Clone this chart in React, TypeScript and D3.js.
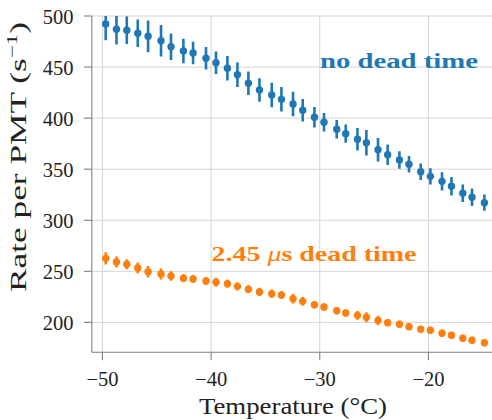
import React from "react";
import * as d3 from "d3";

const temps = [-49.70, -48.71, -47.76, -46.75, -45.80, -44.61, -43.69, -42.55, -41.66, -40.47, -39.55, -38.50, -37.58, -36.57, -35.55, -34.42, -33.53, -32.46, -31.57, -30.49, -29.61, -28.44, -27.61, -26.53, -25.71, -24.64, -23.75, -22.67, -21.79, -20.71, -19.82, -18.75, -17.88, -16.84, -15.99, -14.85];

const rateNoDead = [492.2, 487.0, 486.0, 483.1, 480.1, 475.8, 469.9, 465.7, 463.8, 458.6, 454.3, 448.8, 442.5, 434.1, 427.5, 422.6, 418.4, 413.8, 407.7, 400.8, 395.9, 389.1, 384.8, 379.4, 375.9, 369.1, 364.2, 359.0, 354.8, 347.5, 343.0, 338.1, 333.3, 326.4, 322.5, 317.2];
const errNoDead = [16, 15, 13.5, 13.5, 15.5, 15.5, 13, 12, 11, 11, 11, 12, 12, 11.5, 11.5, 12, 12, 12, 11, 10, 9, 9, 9, 11, 12.5, 11.5, 10, 8.5, 8, 8, 8, 9, 9, 8.5, 8.5, 8];

const rateDead = [262.7, 259.1, 256.9, 253.3, 249.6, 247.4, 245.4, 243.2, 242.5, 240.5, 239.3, 237.9, 235.3, 232.4, 229.8, 228.1, 226.8, 223.2, 220.6, 217.3, 215.1, 211.4, 209.2, 206.9, 205.0, 202.0, 199.7, 198.1, 195.8, 193.2, 192.3, 189.3, 187.4, 184.4, 182.5, 180.1];
const errDead = [6, 5.3, 5, 5.3, 5.6, 5.3, 4.7, 4, 4, 4, 4.5, 4, 4, 4, 4, 4, 4, 4.7, 4.3, 3.5, 3.5, 3.5, 3.5, 4.3, 4.8, 4.5, 3.5, 3.5, 3.5, 3.5, 3.5, 3.5, 3.5, 3.5, 3.5, 3.5];

const xTicks = [-50, -40, -30, -20];
const yTicks = [200, 250, 300, 350, 400, 450, 500];

const BLUE = "#1f77b4";
const ORANGE = "#ff7f0e";
const FONT = "'Liberation Serif', 'DejaVu Serif', serif";

const W = 492, H = 420;
const L = 91.8, R = 492, T = 16, B = 352.3;

export default function App() {
  const x = d3.scaleLinear().domain([-50.98, -14.15]).range([L, R]);
  const y = d3.scaleLinear().domain([170.7, 500]).range([B, T]);
  const fmt = (v: number) => (v < 0 ? "\u2212" + Math.abs(v) : String(v));

  const series = [
    { vals: rateNoDead, errs: errNoDead, color: BLUE },
    { vals: rateDead, errs: errDead, color: ORANGE },
  ];

  return (
    <svg width={W} height={H} style={{ position: "absolute", left: 0, top: 0, background: "#fff" }}>
      <defs>
        <clipPath id="plotclip">
          <rect x={L} y={T} width={R - L} height={B - T} />
        </clipPath>
      </defs>
      {yTicks.map((t) => (
        <line key={"gy" + t} x1={L} x2={R} y1={y(t)} y2={y(t)} stroke="#d4d4d4" strokeWidth={1} />
      ))}
      {xTicks.map((t) => (
        <line key={"gx" + t} x1={x(t)} x2={x(t)} y1={T} y2={B} stroke="#d4d4d4" strokeWidth={1} />
      ))}
      <g clipPath="url(#plotclip)">
        {series.map((s, si) => (
          <g key={si}>
            {s.vals.map((v, i) => (
              <g key={i}>
                <line x1={x(temps[i])} x2={x(temps[i])} y1={y(v - s.errs[i])} y2={y(v + s.errs[i])} stroke={s.color} strokeWidth={2.6} />
                <circle cx={x(temps[i])} cy={y(v)} r={3.7} fill={s.color} />
              </g>
            ))}
          </g>
        ))}
      </g>
      <line x1={L} x2={L} y1={T} y2={B} stroke="#808080" strokeWidth={1.1} />
      <line x1={L} x2={R} y1={B} y2={B} stroke="#808080" strokeWidth={1.1} />
      {yTicks.map((t) => (
        <g key={"yt" + t}>
          <line x1={L - 8} x2={L} y1={y(t)} y2={y(t)} stroke="#808080" strokeWidth={1.1} />
          <text x={73.5} y={y(t) + 8} textAnchor="end" fontFamily={FONT} fontSize={20.5} fill="#222">{fmt(t)}</text>
        </g>
      ))}
      {xTicks.map((t) => (
        <g key={"xt" + t}>
          <line x1={x(t)} x2={x(t)} y1={B} y2={B + 8} stroke="#808080" strokeWidth={1.1} />
          <text x={x(t)} y={385.5} textAnchor="middle" fontFamily={FONT} fontSize={20.5} fill="#222">{fmt(t)}</text>
        </g>
      ))}
      <text x={199} y={414} fontFamily={FONT} fontSize={23} fill="#222" textLength={188} lengthAdjust="spacingAndGlyphs">Temperature (°C)</text>
      <text transform="translate(26,292) rotate(-90)" fontFamily={FONT} fontSize={23} fill="#222" textLength={270} lengthAdjust="spacingAndGlyphs">
        Rate per PMT (s<tspan dy={-9} fontSize={15}>−1</tspan><tspan dy={9}>)</tspan>
      </text>
      <text x={320} y={68} fontFamily={FONT} fontSize={21} fontWeight="bold" fill={BLUE} textLength={158} lengthAdjust="spacingAndGlyphs">no dead time</text>
      <text x={211.5} y={261} fontFamily={FONT} fontSize={21} fill={ORANGE} textLength={205} lengthAdjust="spacingAndGlyphs">
        <tspan fontWeight="bold">2.45 </tspan><tspan fontStyle="italic">μ</tspan><tspan fontWeight="bold">s dead time</tspan>
      </text>
    </svg>
  );
}
